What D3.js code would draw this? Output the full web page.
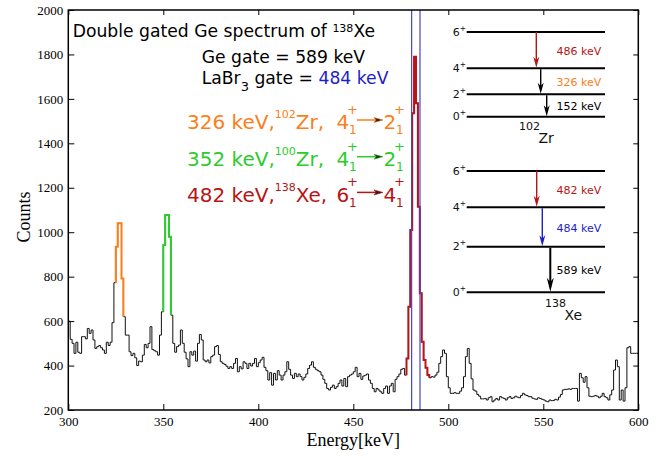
<!DOCTYPE html>
<html>
<head>
<meta charset="utf-8">
<script src="https://d3js.org/d3.v7.min.js"></script>
<style>
  body { margin: 0; background: #fff; }
  .axis text { font-family: "Liberation Serif", "Times New Roman", serif; font-size: 13px; fill: #000; }
  .axis .domain { stroke: none; }
  .axis line { stroke: #000; }
  .sans { font-family: "DejaVu Sans", sans-serif; }
  .serif { font-family: "Liberation Serif", "Times New Roman", serif; }
</style>
</head>
<body>
<script>
// spectrum: 1 keV bins starting at 300 keV
var eMin = 300;
var counts = [
  600, 518, 500, 455, 505, 460, 455, 530, 530, 520,
  567, 545, 560, 515, 477, 485, 490, 480, 470, 455,
  505, 490, 505, 593, 773, 935, 1040, 1040, 792, 620,
  537, 537, 462, 445, 455, 435, 400, 420, 417, 447,
  495, 480, 500, 575, 472, 467, 462, 447, 537, 642,
  942, 1077, 1077, 980, 627, 500, 460, 485, 492, 560,
  500, 460, 430, 395, 462, 447, 465, 420, 500, 540,
  515, 425, 417, 425, 412, 440, 447, 485, 490, 450,
  417, 410, 405, 397, 387, 395, 387, 410, 432, 372,
  395, 385, 417, 410, 387, 410, 398, 410, 432, 395,
  413, 425, 437, 392, 377, 335, 368, 312, 365, 335,
  377, 357, 335, 357, 372, 417, 383, 357, 342, 365,
  350, 362, 350, 335, 347, 362, 387, 402, 417, 392,
  383, 377, 372, 357, 338, 320, 297, 290, 302, 312,
  297, 305, 320, 335, 308, 342, 305, 350, 357, 362,
  372, 392, 350, 365, 338, 353, 357, 362, 335, 320,
  297, 282, 297, 290, 282, 275, 297, 308, 275, 308,
  320, 282, 338, 350, 362, 383, 387, 357, 432, 665,
  1010, 1535, 1790, 1580, 1115, 725, 507, 425, 390, 357,
  345, 350, 348, 357, 370, 410, 440, 470, 455, 350,
  300, 275, 275, 278, 275, 275, 285, 300, 350, 440,
  477, 410, 340, 290, 285, 270, 262, 250, 250, 252,
  245, 255, 260, 237, 245, 252, 245, 260, 255, 252,
  245, 255, 260, 252, 255, 262, 258, 255, 265, 275,
  268, 265, 260, 260, 253, 250, 248, 255, 252, 248,
  245, 240, 237, 245, 242, 243, 248, 245, 258, 270,
  290, 293, 293, 295, 293, 297, 297, 297, 240, 365,
  345, 325, 350, 300, 262, 260, 262, 265, 262, 255,
  262, 275, 260, 255, 245, 268, 290, 380, 425, 395,
  245, 290, 240, 300, 480, 485, 455, 455, 455, 455
];
// highlighted peak bins (first and last bin energy)
var peakRanges = [[325, 328], [350, 353], [478, 489]];
// vertical marker lines (keV)
var markerE = [480.7, 485.1];

var xTicks = [300, 350, 400, 450, 500, 550, 600];
var yTicks = [200, 400, 600, 800, 1000, 1200, 1400, 1600, 1800, 2000];

var legendE = ['326 keV', '352 keV', '482 keV'];
var legendA = ['102', '100', '138'];
var legendEl = ['Zr', 'Zr', 'Xe'];
var legendJi = ['4', '4', '6'];
var legendJf = ['2', '2', '4'];

var levelSpins = ['6', '4', '2', '0'];
var zrGammas = ['486 keV', '326 keV', '152 keV'];
var xeGammas = ['482 keV', '484 keV', '589 keV'];

var cOrange = '#fa7f1a', cGreen = '#2ccb2c', cRed = '#b81414', cBlue = '#1e1ec8';
var peakColors = [cOrange, cGreen, cRed];

var w = 669, h = 460;
var margin = {top: 10, right: 30.7, bottom: 50, left: 68.3};
var innerW = w - margin.left - margin.right,
    innerH = h - margin.top - margin.bottom;

var x = d3.scaleLinear().domain([300, 600]).range([0, innerW]);
var y = d3.scaleLinear().domain([200, 2000]).range([innerH, 0]);

var svg = d3.select('body').append('svg')
    .attr('width', w)
    .attr('height', h);
var g = svg.append('g')
    .attr('transform', 'translate(' + [margin.left, margin.top] + ')');

// step line through scales
var line = d3.line()
    .x(function(d) { return x(d.e); })
    .y(function(d) { return y(d.c); })
    .curve(d3.curveStepAfter);

function binPoints(i0, i1, lead, trail) {
  var pts = [];
  if (lead && i0 > 0) pts.push({e: eMin + i0, c: counts[i0 - 1]});
  for (var i = i0; i <= i1; i++) pts.push({e: eMin + i, c: counts[i]});
  pts.push({e: eMin + i1 + 1, c: counts[i1]});
  if (trail && i1 + 1 < counts.length) pts.push({e: eMin + i1 + 1, c: counts[i1 + 1]});
  return pts;
}

g.append('path')
    .attr('d', line(binPoints(0, counts.length - 1, false, false)))
    .attr('fill', 'none')
    .attr('stroke', '#111')
    .attr('stroke-width', 1);

peakRanges.forEach(function(r, k) {
  g.append('path')
      .attr('d', line(binPoints(r[0] - eMin, r[1] - eMin, true, true)))
      .attr('fill', 'none')
      .attr('stroke', peakColors[k])
      .attr('stroke-width', 2);
});

g.selectAll('.marker')
    .data(markerE)
  .enter().append('line')
    .attr('class', 'marker')
    .attr('x1', function(d) { return x(d); })
    .attr('x2', function(d) { return x(d); })
    .attr('y1', 0).attr('y2', innerH)
    .attr('stroke', '#4545d8')
    .attr('stroke-width', 1.2);

// axes, ticks inside like the original
var fmt = d3.format('d');
var xAxis = d3.axisBottom(x).tickValues(xTicks).tickFormat(fmt).tickSizeInner(-6).tickSizeOuter(0).tickPadding(7);
var yAxis = d3.axisLeft(y).tickValues(yTicks).tickFormat(fmt).tickSizeInner(-6).tickSizeOuter(0).tickPadding(5);
g.append('g').attr('class', 'axis')
    .attr('transform', 'translate(0,' + innerH + ')')
    .call(xAxis);
g.append('g').attr('class', 'axis')
    .call(yAxis);
g.append('g').attr('class', 'axis')
    .call(d3.axisTop(x).tickValues(xTicks).tickSizeInner(-5).tickSizeOuter(0).tickFormat(''));
g.append('g').attr('class', 'axis')
    .attr('transform', 'translate(' + innerW + ',0)')
    .call(d3.axisRight(y).tickValues(yTicks).tickSizeInner(-5).tickSizeOuter(0).tickFormat(''));

g.append('rect')
    .attr('width', innerW).attr('height', innerH)
    .attr('fill', 'none').attr('stroke', '#000').attr('stroke-width', 1.5);

svg.append('text').attr('class', 'serif')
    .attr('x', margin.left + innerW / 2).attr('y', 446)
    .attr('text-anchor', 'middle').attr('font-size', 18)
    .text('Energy[keV]');
svg.append('text').attr('class', 'serif')
    .attr('transform', 'translate(30,217) rotate(-90)')
    .attr('text-anchor', 'middle').attr('font-size', 18)
    .text('Counts');

// title block
var t1 = svg.append('text').attr('class', 'sans')
    .attr('x', 72.7).attr('y', 36.7).attr('font-size', 17.2).attr('fill', '#000');
t1.append('tspan').text('Double gated Ge spectrum of ');
t1.append('tspan').attr('font-size', 11).attr('dy', -5).text('138');
t1.append('tspan').attr('dy', 5).text('Xe');

svg.append('text').attr('class', 'sans')
    .attr('x', 201.7).attr('y', 63.3).attr('font-size', 17.2)
    .text('Ge gate = 589 keV');
var t3 = svg.append('text').attr('class', 'sans')
    .attr('x', 201.7).attr('y', 84).attr('font-size', 17.2);
t3.append('tspan').text('LaBr');
t3.append('tspan').attr('font-size', 13).attr('dy', 7).text('3');
t3.append('tspan').attr('dy', -7).text(' gate = ');
t3.append('tspan').attr('fill', cBlue).text('484 keV');

// arrows
function vArrow(x0, y1, y2, color, lw, hw, hl) {
  svg.append('line')
      .attr('x1', x0).attr('x2', x0).attr('y1', y1).attr('y2', y2 - hl * 0.5)
      .attr('stroke', color).attr('stroke-width', lw);
  svg.append('path')
      .attr('d', 'M' + x0 + ',' + y2 + 'L' + (x0 - hw / 2) + ',' + (y2 - hl) +
                 'L' + x0 + ',' + (y2 - hl * 0.7) + 'L' + (x0 + hw / 2) + ',' + (y2 - hl) + 'Z')
      .attr('fill', color);
}
function hArrow(x1, x2, y0, color) {
  svg.append('line')
      .attr('x1', x1).attr('x2', x2 - 3).attr('y1', y0).attr('y2', y0)
      .attr('stroke', color).attr('stroke-width', 1.5);
  svg.append('path')
      .attr('d', 'M' + x2 + ',' + y0 + 'L' + (x2 - 9) + ',' + (y0 - 2.5) +
                 'L' + (x2 - 7) + ',' + y0 + 'L' + (x2 - 9) + ',' + (y0 + 2.5) + 'Z')
      .attr('fill', '#222').attr('stroke', color).attr('stroke-width', 0.6);
}

// legend lines
function spin(xs, base, j, color) {
  svg.append('text').attr('class', 'sans').attr('x', xs).attr('y', base)
      .attr('font-size', 20).attr('fill', color).text(j);
  svg.append('text').attr('class', 'sans').attr('x', xs + 10.5).attr('y', base - 15.5)
      .attr('font-size', 13).attr('fill', color).text('+');
  svg.append('text').attr('class', 'sans').attr('x', xs + 12.5).attr('y', base + 5)
      .attr('font-size', 12).attr('fill', color).text('1');
}
var legendBase = [129.3, 166, 201.7];
legendE.forEach(function(e, k) {
  var col = peakColors[k], b = legendBase[k];
  var t = svg.append('text').attr('class', 'sans')
      .attr('x', 187).attr('y', b).attr('font-size', 20).attr('fill', col);
  t.append('tspan').text(e + ',');
  t.append('tspan').attr('font-size', 11).attr('dy', -11).text(legendA[k]);
  t.append('tspan').attr('dy', 11).text(legendEl[k] + ',');
  spin(336.5, b, legendJi[k], col);
  hArrow(357, 383, b - 9.3, col);
  spin(383.5, b, legendJf[k], col);
});

// level schemes
function scheme(levelY, gammas, labelColors, arrowColors, arrowX, arrowW, A, el, ax, ay) {
  levelY.forEach(function(ly, k) {
    svg.append('line').attr('x1', 466.7).attr('x2', 605).attr('y1', ly).attr('y2', ly)
        .attr('stroke', '#000').attr('stroke-width', 2);
    var t = svg.append('text').attr('class', 'sans')
        .attr('x', 452.7).attr('y', ly + 3.7).attr('font-size', 11).attr('fill', '#111');
    t.append('tspan').text(levelSpins[k]);
    t.append('tspan').attr('font-size', 7.5).attr('dy', -5).text('+');
  });
  gammas.forEach(function(gm, k) {
    var big = arrowW[k] > 1.6;
    vArrow(arrowX[k], levelY[k] + (k ? 1 : 0), levelY[k + 1] - 0.5, arrowColors[k], arrowW[k], big ? 7 : 6, big ? 14 : 11);
    svg.append('text').attr('class', 'sans')
        .attr('x', 556.5).attr('y', (levelY[k] + levelY[k + 1]) / 2 + 4.5)
        .attr('font-size', 11).attr('fill', labelColors[k]).text(gm);
  });
  svg.append('text').attr('class', 'sans').attr('x', ax).attr('y', ay)
      .attr('font-size', 11).attr('fill', '#111').text(A);
  svg.append('text').attr('class', 'sans').attr('x', ax + 19.5).attr('y', ay + 13)
      .attr('font-size', 14).attr('fill', '#111').text(el);
}
scheme([32, 68.3, 94.3, 116.7], zrGammas, [cRed, cOrange, '#000'], [cRed, '#000', '#000'],
       [536.3, 540.7, 546.7], [1.4, 1.4, 1.4], '102', 'Zr', 519, 130);
scheme([171, 207.3, 246.7, 292.3], xeGammas, [cRed, cBlue, '#000'], [cRed, cBlue, '#000'],
       [536.7, 542.3, 550.3], [1.4, 1.4, 2], '138', 'Xe', 545, 306.7);
</script>
</body>
</html>
